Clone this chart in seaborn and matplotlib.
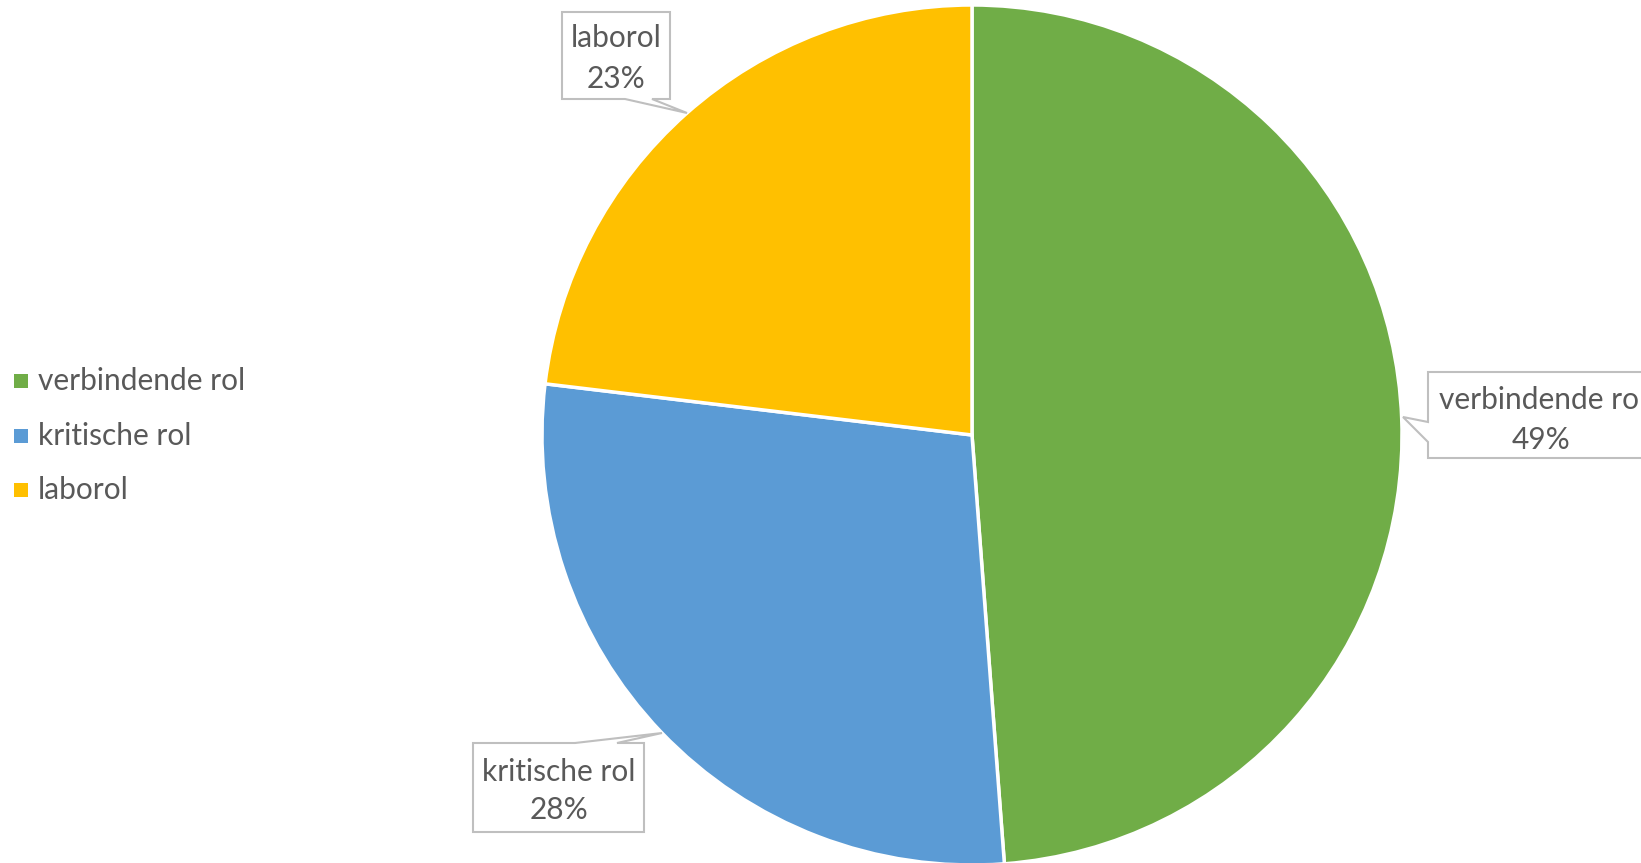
import matplotlib
matplotlib.use("Agg")
import matplotlib.pyplot as plt
from matplotlib.patches import Polygon
import seaborn as sns

categories = ["verbindende rol", "kritische rol", "laborol"]
values = [48.8, 28.1, 23.1]
colors = ["#70AD47", "#5B9BD5", "#FFC000"]

W, H = 1641, 863
sns.set_theme(style="white")
plt.rcParams['font.family'] = ['Lato', 'DejaVu Sans']

fig = plt.figure(figsize=(W / 100, H / 100), dpi=100)
ax = fig.add_axes([0, 0, 1, 1])

def Y(y):
    return H - y

cx, cy, r = 972, 435, 430
ax.pie(values, colors=colors, startangle=90, counterclock=False,
       center=(cx, Y(cy)), radius=r,
       wedgeprops=dict(edgecolor="white", linewidth=2.5))
ax.set_xlim(0, W)
ax.set_ylim(0, H)
ax.set_aspect("equal")
ax.axis("off")

txt = "#595959"
edge = "#BFBFBF"
fs = 21.5

# callout shapes (pixel coordinates, top-left origin)
callouts = [
    dict(poly=[(1428, 372), (1660, 372), (1660, 458), (1428, 458), (1428, 442),
               (1403, 417), (1428, 422)],
         lines=[(1439, 400, "left"), (1541, 440, "center")]),
    dict(poly=[(473, 743), (575, 743), (662, 733), (617, 743), (644, 743),
               (644, 832), (473, 832)],
         lines=[(559, 772, "center"), (559, 810, "center")]),
    dict(poly=[(562, 12), (670, 12), (670, 99), (652, 99), (687, 113),
               (625, 99), (562, 99)],
         lines=[(616, 38, "center"), (616, 79, "center")]),
]

for cat, val, c in zip(categories, values, callouts):
    pts = [(x, Y(y)) for x, y in c["poly"]]
    ax.add_patch(Polygon(pts, closed=True, facecolor="white", edgecolor=edge,
                         linewidth=1.5, zorder=5, clip_on=True))
    (x1, y1, ha1), (x2, y2, ha2) = c["lines"]
    ax.text(x1, Y(y1), cat, ha=ha1, va="center", fontsize=fs, color=txt, zorder=6)
    ax.text(x2, Y(y2), f"{round(val)}%", ha=ha2, va="center", fontsize=fs, color=txt, zorder=6)

# legend
leg_y = [381, 436, 490]
for cat, c, y in zip(categories, colors, leg_y):
    ax.scatter([21], [Y(y)], marker="s", s=110, color=c, linewidths=0)
    ax.text(38, Y(y), cat, ha="left", va="center", fontsize=fs, color=txt)

fig.savefig("out.png", dpi=100, facecolor="white")
